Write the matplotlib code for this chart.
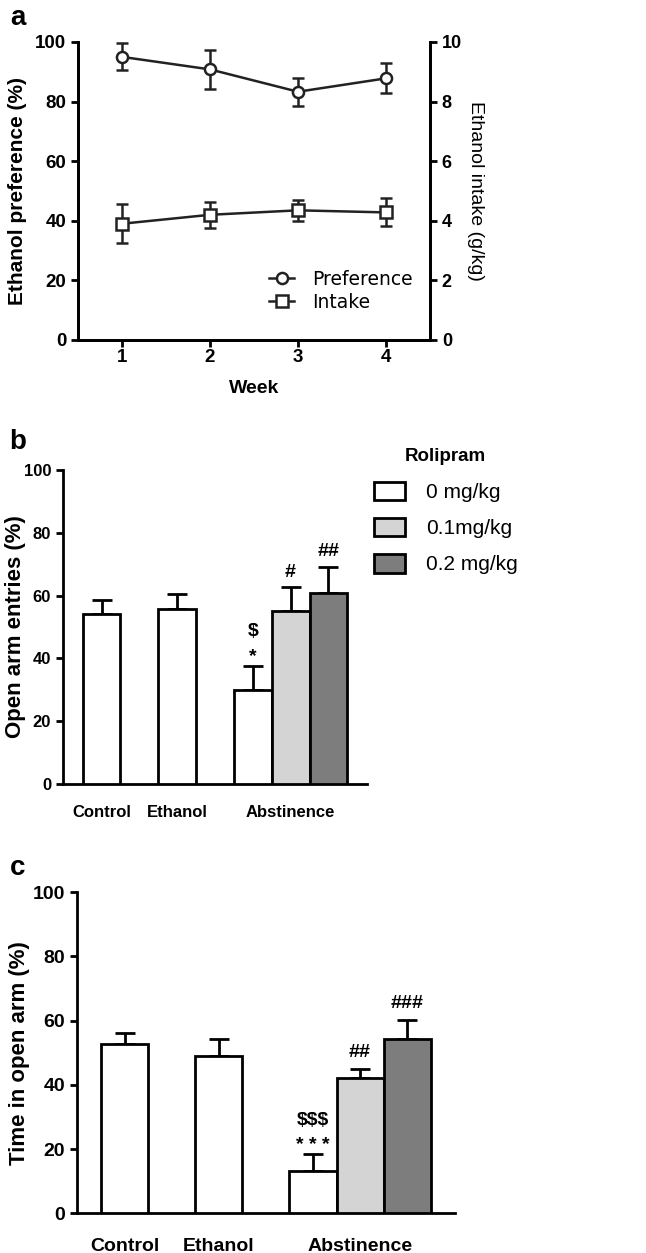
# Three-panel figure: (a) ethanol preference/intake over weeks,
# (b) open arm entries, (c) time in open arm, with rolipram groups.
import matplotlib
matplotlib.use("Agg")
import matplotlib.pyplot as plt
from matplotlib.lines import Line2D
from matplotlib.patches import Patch

plt.rcParams["font.family"] = ["Liberation Sans", "DejaVu Sans"]
plt.rcParams["font.weight"] = "bold"
plt.rcParams["axes.labelweight"] = "bold"

# ---------------- data ----------------
weeks = [1, 2, 3, 4]
pref = [95.0, 90.8, 83.3, 87.8]
pref_err = [4.5, 6.5, 4.7, 5.0]
intake = [3.9, 4.2, 4.35, 4.28]
intake_err = [0.65, 0.43, 0.35, 0.47]

groups = ["Control", "Ethanol", "Abstinence"]
dose_labels = ["0 mg/kg", "0.1mg/kg", "0.2 mg/kg"]
# bars: Control, Ethanol, Abstinence 0 / 0.1 / 0.2
entries = [54.0, 55.8, 29.8, 55.1, 60.8]
entries_err = [4.5, 4.7, 7.8, 7.5, 8.3]
time_open = [52.6, 48.9, 13.1, 42.0, 54.4]
time_open_err = [3.6, 5.3, 5.5, 3.0, 5.8]

# significance marks over the abstinence bars (text, y in data units)
entries_marks = [[("$", 48.5), ("*", 40.5)], [("#", 67.5)], [("##", 74.0)]]
time_marks = [[("$$$", 29.0), ("* * *", 21.0)], [("##", 50.0)], [("###", 65.2)]]

bar_x = [0, 2, 4, 5, 6]
bar_colors = ["white", "white", "white", "#d4d4d4", "#7d7d7d"]
lw = 2.0

fig = plt.figure(figsize=(6.46, 12.53), dpi=100)


def style_axis(ax, fs):
    for s in ax.spines.values():
        s.set_linewidth(lw)
    ax.tick_params(width=lw, length=5, labelsize=fs, direction="out")


# ---------------- panel a ----------------
axa = fig.add_axes([0.1207, 0.7287, 0.545, 0.2378])
axa.errorbar(weeks, pref, yerr=pref_err, color="#222222", lw=1.8, marker="o",
             ms=8, mfc="white", mec="#222222", mew=1.8, capsize=4,
             elinewidth=1.8, capthick=1.8)
axa.set_xlim(0.5, 4.5)
axa.set_ylim(0, 100)
axa.set_yticks([0, 20, 40, 60, 80, 100])
axa.set_xticks(weeks)
axa.spines["top"].set_visible(False)
style_axis(axa, 13.5)
axa.tick_params(axis="x", pad=1.5)
axa.set_xlabel("Week", fontsize=14, labelpad=10)
axa.set_ylabel("Ethanol preference (%)", fontsize=15)
axa.yaxis.set_label_coords(-0.145, 0.5)

axa2 = axa.twinx()
axa2.errorbar(weeks, intake, yerr=intake_err, color="#222222", lw=1.8, marker="s",
              ms=8, mfc="white", mec="#222222", mew=1.8, capsize=4,
              elinewidth=1.8, capthick=1.8)
axa2.set_ylim(0, 10)
axa2.set_yticks([0, 2, 4, 6, 8, 10])
axa2.spines["top"].set_visible(False)
style_axis(axa2, 13)
axa2.set_ylabel("Ethanol intake (g/kg)", fontsize=14, fontweight="normal",
                rotation=270, labelpad=16)

leg_h = [Line2D([], [], color="#222222", lw=1.8, marker="o", ms=8, mfc="white", mew=1.8),
         Line2D([], [], color="#222222", lw=1.8, marker="s", ms=8, mfc="white", mew=1.8)]
axa2.legend(leg_h, ["Preference", "Intake"], loc="center right",
            bbox_to_anchor=(1.0, 0.165), frameon=False, handlelength=1.3,
            handletextpad=1.0, prop={"family": "DejaVu Sans", "size": 13.5, "weight": "normal"},
            labelspacing=0.2)

fig.text(0.028, 0.986, "a", fontsize=20, fontweight="bold", va="center", ha="center")


# ---------------- bar panels ----------------
def bar_panel(rect, vals, errs, marks, ylabel, fs_tick, fs_label, capsize, xpad, label_x):
    ax = fig.add_axes(rect)
    ax.bar(bar_x, vals, width=1.0, color=bar_colors, edgecolor="black", linewidth=lw, zorder=3)
    ax.errorbar(bar_x, vals, yerr=[[0] * len(errs), errs], fmt="none", ecolor="black",
                elinewidth=lw, capsize=capsize, capthick=lw, zorder=2)
    for x, bar_marks in zip(bar_x[2:], marks):
        for txt, y in bar_marks:
            ax.text(x, y, txt, ha="center", va="center", fontsize=14, fontweight="bold")
    ax.set_xlim(-1.02, 7.02)
    ax.set_ylim(0, 100)
    ax.set_yticks([0, 20, 40, 60, 80, 100])
    ax.set_xticks([0, 2, 5])
    ax.set_xticklabels(groups)
    ax.spines["top"].set_visible(False)
    ax.spines["right"].set_visible(False)
    style_axis(ax, fs_tick)
    ax.tick_params(axis="x", length=0, pad=xpad)
    ax.set_ylabel(ylabel, fontsize=fs_label)
    ax.yaxis.set_label_coords(label_x, 0.5)
    return ax


axb = bar_panel([0.0975, 0.3743, 0.4706, 0.2506], entries, entries_err, entries_marks,
                "Open arm entries (%)", 12, 16, 7, 15, -0.122)
fig.text(0.028, 0.647, "b", fontsize=20, fontweight="bold", va="center", ha="center")

patches = [Patch(facecolor=c, edgecolor="black", linewidth=lw) for c in bar_colors[2:]]
fig.legend(patches, dose_labels, loc="upper left", bbox_to_anchor=(0.55, 0.6305),
           frameon=False, handlelength=1.5, handleheight=1.0, labelspacing=0.75,
           handletextpad=1.0, prop={"weight": "normal", "size": 15})
fig.text(0.689, 0.636, "Rolipram", fontsize=13.5, fontweight="bold", va="center", ha="center")

axc = bar_panel([0.1192, 0.0317, 0.5851, 0.2562], time_open, time_open_err, time_marks,
                "Time in open arm (%)", 14, 16, 7, 18, -0.124)
fig.text(0.028, 0.307, "c", fontsize=20, fontweight="bold", va="center", ha="center")

fig.savefig("out.png", dpi=100)
